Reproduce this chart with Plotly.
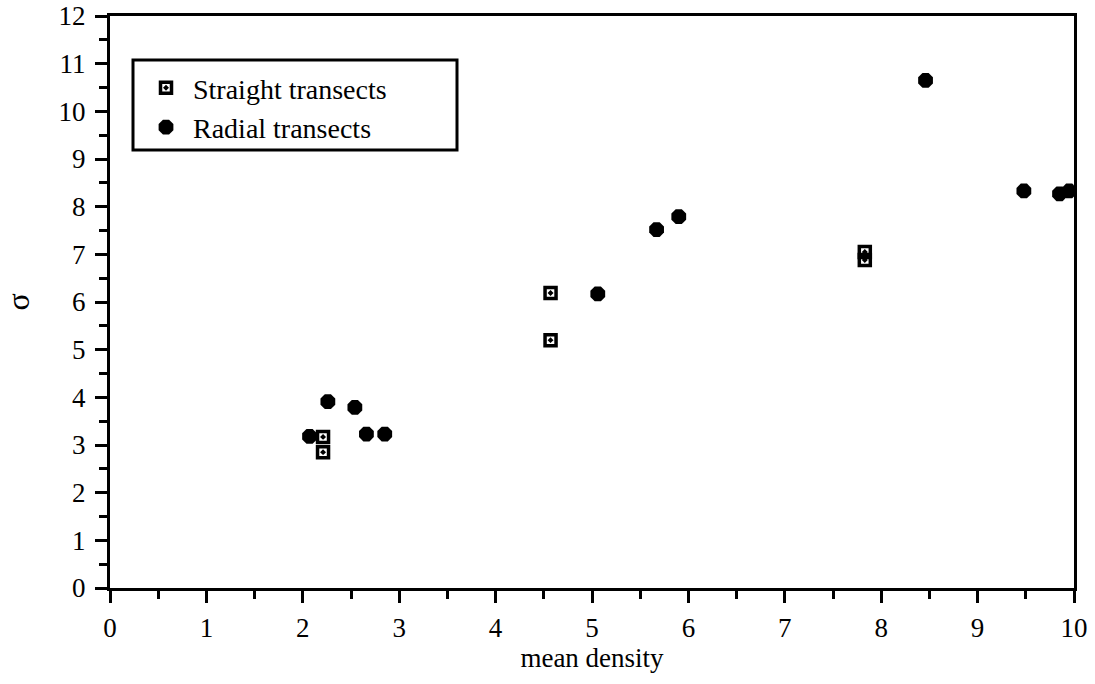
import plotly.graph_objects as go

straight_x = [2.21, 2.21, 4.57, 4.57, 7.83, 7.83]
straight_y = [3.17, 2.85, 6.19, 5.20, 7.05, 6.88]

radial_x = [2.07, 2.26, 2.54, 2.66, 2.85, 5.06, 5.67, 5.90, 8.46, 9.48, 9.85, 9.95]
radial_y = [3.18, 3.91, 3.79, 3.23, 3.23, 6.17, 7.52, 7.79, 10.65, 8.33, 8.27, 8.33]

x_ticks = list(range(0, 11))
y_ticks = list(range(0, 13))

FONT = "Liberation Serif, Times New Roman, serif"

fig = go.Figure()
fig.add_trace(go.Scatter(
    x=straight_x, y=straight_y, mode="markers", name="Straight transects",
    legendgroup="a",
    marker=dict(symbol="square-open-dot", size=11, color="black",
                line=dict(color="black", width=3.5)),
))
fig.add_trace(go.Scatter(
    x=radial_x, y=radial_y, mode="markers", name="Radial transects",
    legendgroup="b",
    marker=dict(symbol="octagon", size=16, color="black",
                line=dict(color="black", width=0)),
))

axis_common = dict(
    showgrid=False, zeroline=False, showline=True, linecolor="black",
    linewidth=3, mirror=True, ticks="outside", ticklen=12, tickwidth=3,
    tickcolor="black", tickfont=dict(family=FONT, size=27, color="black"),
    minor=dict(ticks="outside", ticklen=8, tickwidth=3, tickcolor="black", dtick=0.5),
    automargin=False,
)

fig.update_xaxes(range=[0, 10], tickvals=x_ticks, ticktext=[str(v) for v in x_ticks],
                 title=dict(text="mean density", font=dict(family=FONT, size=27, color="black"),
                            standoff=6),
                 ticklabelstandoff=2,
                 **axis_common)
fig.update_yaxes(range=[0, 12], tickvals=y_ticks, ticktext=[str(v) for v in y_ticks],
                 title=dict(text="σ", font=dict(family=FONT, size=32, color="black"),
                            standoff=44),
                 ticklabelstandoff=4,
                 **axis_common)

# legend box
fig.add_shape(type="rect", xref="paper", yref="paper",
              x0=(133 - 110) / 964, x1=(457 - 110) / 964,
              y0=(588 - 150) / 572, y1=(588 - 60) / 572,
              line=dict(color="black", width=3), fillcolor="rgba(0,0,0,0)")

fig.update_layout(
    width=1095, height=684,
    margin=dict(l=110, r=21, t=16, b=96),
    paper_bgcolor="white", plot_bgcolor="white",
    font=dict(family=FONT, color="black"),
    showlegend=True,
    legend=dict(x=(139 - 110) / 964, y=(588 - 63) / 572, xanchor="left", yanchor="top",
                bgcolor="rgba(0,0,0,0)", borderwidth=0, itemwidth=44,
                font=dict(family=FONT, size=28, color="black"),
                tracegroupgap=0),
)

fig.write_html("out.html")
